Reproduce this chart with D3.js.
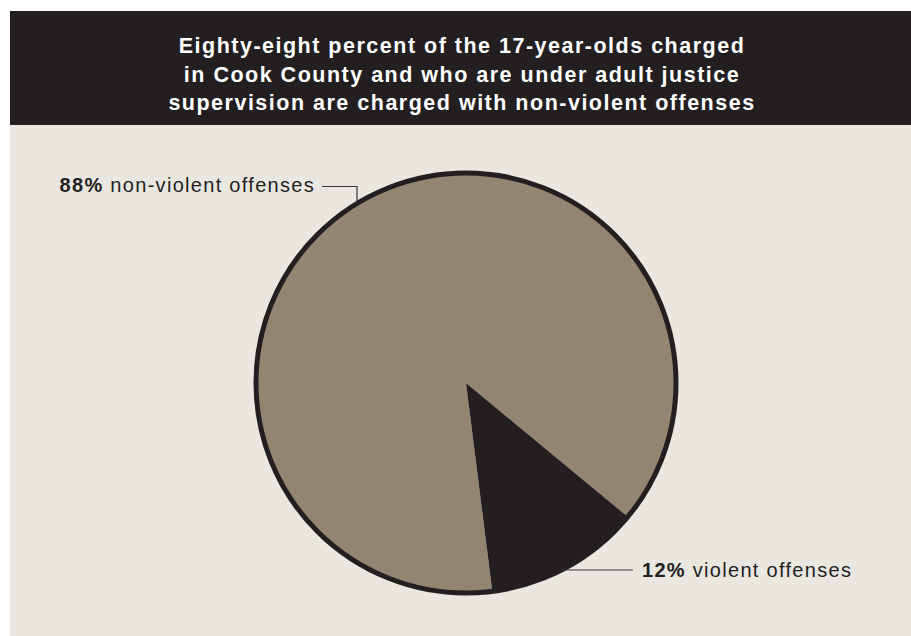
<!DOCTYPE html>
<html>
<head>
<meta charset="utf-8">
<script src="https://cdn.jsdelivr.net/npm/d3@7"></script>
<style>
  html, body { margin: 0; padding: 0; background: #ffffff; }
  svg { display: block; }
</style>
</head>
<body>
<div id="chart"></div>
<script>
// ---- data ----
const titleLines = [
  "Eighty-eight percent of the 17-year-olds charged",
  "in Cook County and who are under adult justice",
  "supervision are charged with non-violent offenses"
];
const categories = ["non-violent offenses", "violent offenses"];
const values = [88, 12];
const colors = ["#928672", "#231f20"];

// ---- layout ----
const W = 911, H = 636;
const svg = d3.select("#chart").append("svg").attr("width", W).attr("height", H);

// background panels
svg.append("rect").attr("x", 10).attr("y", 125).attr("width", W - 10).attr("height", H - 125).attr("fill", "#eae7e1");
svg.append("rect").attr("x", 10).attr("y", 11).attr("width", W - 10).attr("height", 114).attr("fill", "#231f20");

// title
const title = svg.append("text")
  .attr("text-anchor", "middle")
  .attr("font-family", "'Liberation Sans', Arial, sans-serif")
  .attr("font-weight", "bold")
  .attr("font-size", 21.5)
  .attr("letter-spacing", "1.5px")
  .attr("fill", "#ffffff");
titleLines.forEach((t, i) => {
  title.append("tspan").attr("x", 462).attr("y", 53 + i * 28.5).text(t);
});

// pie
const cx = 466, cy = 383, r = 210;
const startDeg = 172.8;
const pie = d3.pie().sort(null).value(d => d)
  .startAngle(startDeg * Math.PI / 180)
  .endAngle(startDeg * Math.PI / 180 + 2 * Math.PI);
const arcs = pie(values);
const arc = d3.arc().innerRadius(0).outerRadius(r);
const g = svg.append("g").attr("transform", `translate(${cx},${cy})`);
g.selectAll("path.slice").data(arcs).join("path")
  .attr("class", "slice")
  .attr("d", arc)
  .attr("fill", (d, i) => colors[i]);
g.append("circle").attr("r", r).attr("fill", "none").attr("stroke", "#231f20").attr("stroke-width", 5);

// labels with leader lines
const labelFont = "'Liberation Sans', Arial, sans-serif";
// non-violent label (left, top)
{
  const lx = 357;
  const ly = cy - Math.sqrt(r * r - (lx - cx) * (lx - cx));
  svg.append("path")
    .attr("d", `M322,186.5 H${lx} V${ly}`)
    .attr("fill", "none").attr("stroke", "#3a3536").attr("stroke-width", 1.2);
  const t = svg.append("text").attr("x", 315).attr("y", 192)
    .attr("text-anchor", "end")
    .attr("font-family", labelFont).attr("font-size", 20)
    .attr("letter-spacing", "1.3px").attr("fill", "#231f20");
  t.append("tspan").attr("font-weight", "bold").text(values[0] + "%");
  t.append("tspan").text(" " + categories[0]);
}
// violent label (right, bottom)
{
  const ly = 570;
  const lx = cx + Math.sqrt(r * r - (ly - cy) * (ly - cy));
  svg.append("path")
    .attr("d", `M${lx},${ly} H633`)
    .attr("fill", "none").attr("stroke", "#3a3536").attr("stroke-width", 1.2);
  const t = svg.append("text").attr("x", 642).attr("y", 577)
    .attr("text-anchor", "start")
    .attr("font-family", labelFont).attr("font-size", 20)
    .attr("letter-spacing", "1.3px").attr("fill", "#231f20");
  t.append("tspan").attr("font-weight", "bold").text(values[1] + "%");
  t.append("tspan").text(" " + categories[1]);
}
</script>
</body>
</html>
